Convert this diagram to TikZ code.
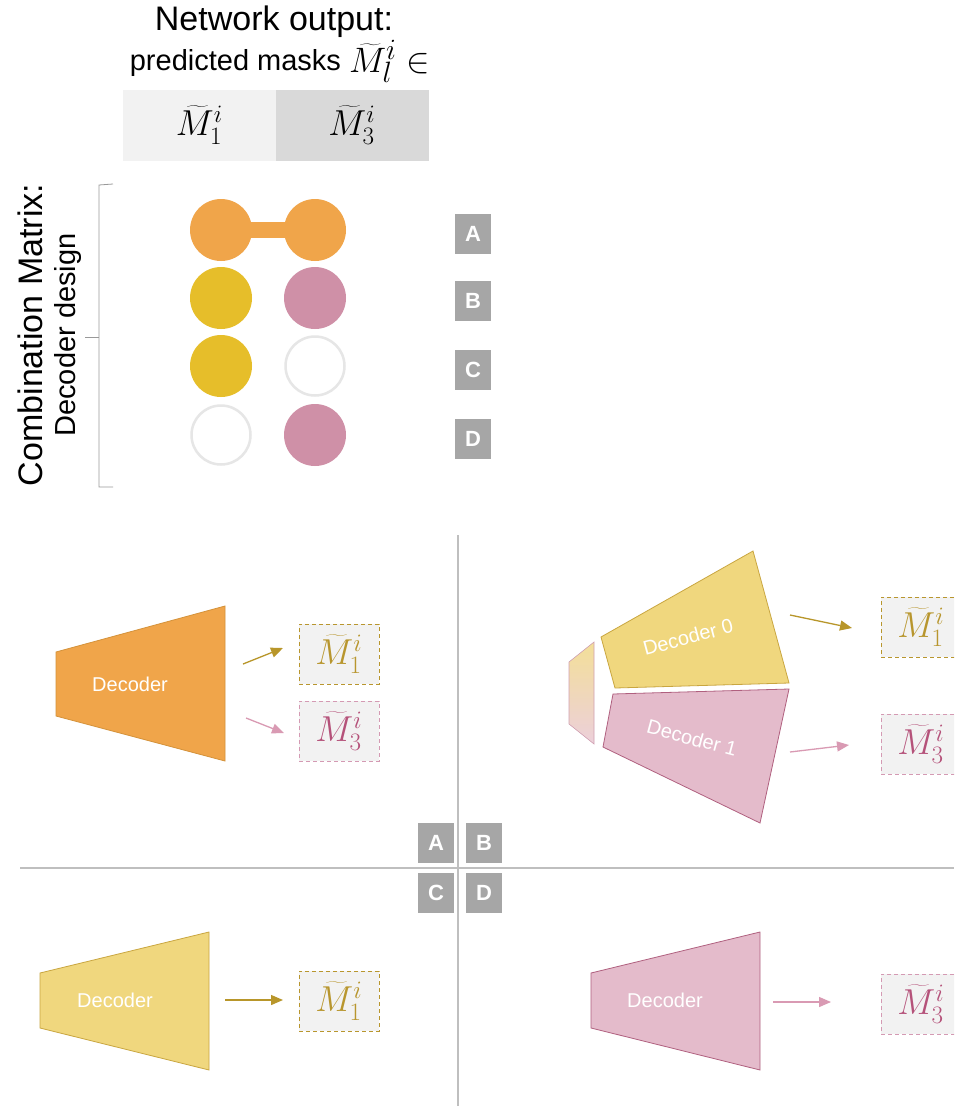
\documentclass[tikz,border=0pt]{standalone}
\usepackage{graphicx}
\usepackage{fontspec}
\setmainfont{Liberation Sans}
\usetikzlibrary{arrows.meta}
\definecolor{cOrange}{HTML}{F0A54A}
\definecolor{cOrangeL}{HTML}{D4923A}
\definecolor{cGold}{HTML}{E6BE2A}
\definecolor{cPink}{HTML}{CF90A7}
\definecolor{tGold}{HTML}{F0D77E}
\definecolor{tGoldL}{HTML}{C9A640}
\definecolor{tPink}{HTML}{E4BBCB}
\definecolor{tPinkL}{HTML}{B0607F}
\definecolor{aGold}{HTML}{B8962A}
\definecolor{aPink}{HTML}{D99AB3}
\definecolor{bPink}{HTML}{D49AB3}
\definecolor{mGold}{HTML}{B8962E}
\definecolor{mPink}{HTML}{B5527A}
\definecolor{boxfill}{HTML}{F2F2F2}
\definecolor{cellB}{HTML}{D9D9D9}
\definecolor{gridc}{HTML}{BFBFBF}
\definecolor{lgray}{HTML}{A6A6A6}
\definecolor{ring}{HTML}{E6E6E6}
\newcommand{\mM}[1]{\scalebox{1.45}{$\widetilde{M}_{#1}^{i}$}}
\begin{document}
\begin{tikzpicture}[x=1pt,y=-1pt,
  dot/.style={circle,minimum size=62pt,inner sep=0pt},
  emptydot/.style={circle,minimum size=59pt,inner sep=0pt,draw=ring,line width=2.5pt,fill=white},
  lbox/.style={fill=lgray,text=white,font=\bfseries\fontsize{22}{22}\selectfont,minimum width=36pt,minimum height=40pt,inner sep=0pt},
  mbox/.style={fill=boxfill,dash pattern=on 4pt off 3pt,line width=1pt,minimum width=80pt,minimum height=60pt,inner sep=0pt,font=\fontsize{24}{24}\selectfont},
  dectext/.style={text=white,font=\fontsize{20}{20}\selectfont},
  garrow/.style={draw=aGold,line width=1.3pt,-{Triangle[length=12pt,width=10pt]}},
  parrow/.style={draw=aPink,line width=1.3pt,-{Triangle[length=12pt,width=10pt]}},
  cell/.style={minimum width=153pt,minimum height=71pt,inner sep=0pt,font=\fontsize{26}{26}\selectfont}
]
\clip (0,0) rectangle (954,1106);
\fill[white] (0,0) rectangle (954,1106);

% title
\node[font=\fontsize{34}{34}\selectfont] (title) at (274,22) {Network output:};
\node[font=\fontsize{29}{29}\selectfont] (sub) at (280,61) {predicted masks \raisebox{-2pt}{\scalebox{1.42}{$\widetilde{M}_l^i \in$}}};
\node[cell,fill=boxfill] (c1) at (199.5,125) {\mM{1}};
\node[cell,fill=cellB] (c3) at (352,125) {\mM{3}};

% bracket
\draw[gray!80,line width=0.8pt] (113,184) -- (99,185) -- (99,487) -- (113,487);
\draw[gray!80,line width=0.8pt] (99,337) -- (85,337);
\node[rotate=90,font=\fontsize{34}{34}\selectfont] (cm) at (30,335) {Combination Matrix:};
\node[rotate=90,font=\fontsize{29}{29}\selectfont] (dd) at (68,335) {Decoder design};

% circles
\fill[cOrange] (221,222) rectangle (315,238);
\node[dot,fill=cOrange] (a1) at (221,230) {};
\node[dot,fill=cOrange] (a3) at (315,230) {};
\node[dot,fill=cGold] (b1) at (221,298) {};
\node[dot,fill=cPink] (b3) at (315,298) {};
\node[dot,fill=cGold] (cc1) at (221,366) {};
\node[emptydot] (cc3) at (315,366) {};
\node[emptydot] (d1) at (221,435) {};
\node[dot,fill=cPink] (d3) at (315,435) {};

\node[lbox] (LA) at (473,234) {A};
\node[lbox] (LB) at (473,301) {B};
\node[lbox] (LC) at (473,370) {C};
\node[lbox] (LD) at (473,439) {D};

% grid
\draw[gridc,line width=1.2pt] (458,535) -- (458,1106);
\draw[gridc,line width=1.2pt] (20,868) -- (954,868);
\node[lbox] (GA) at (436,843) {A};
\node[lbox] (GB) at (484,843) {B};
\node[lbox] (GC) at (436,893) {C};
\node[lbox] (GD) at (484,893) {D};

% quadrant A
\filldraw[fill=cOrange,draw=cOrangeL,line width=0.8pt] (56,652) -- (225,606) -- (225,761) -- (56,716) -- cycle;
\node[dectext] (decA) at (130,684) {Decoder};
\node[mbox,draw=mGold,text=mGold] (A1) at (339,654) {\mM{1}};
\node[mbox,draw=bPink,text=mPink] (A3) at (339,731) {\mM{3}};
\coordinate (sA1) at (243,664);
\coordinate (eA1) at (283,648);
\coordinate (sA3) at (246,718);
\coordinate (eA3) at (284,733);
\draw[garrow] (sA1) -- (eA1);
\draw[parrow] (sA3) -- (eA3);

% quadrant B
\shade[top color=tGold!80,bottom color=tPink!70,draw=tPinkL!60,line width=0.6pt] (569,662) -- (594,642) -- (594,744) -- (569,724) -- cycle;
\filldraw[fill=tGold,draw=tGoldL,line width=0.8pt] (601,637) -- (753,551) -- (789,683) -- (615,688) -- cycle;
\filldraw[fill=tPink,draw=tPinkL,line width=0.8pt] (613,694) -- (789,689) -- (760,823) -- (603,747) -- cycle;
\node[dectext,rotate=15] (dec0) at (688,637) {Decoder 0};
\node[dectext,rotate=-15] (dec1) at (692,738) {Decoder 1};
\node[mbox,draw=mGold,text=mGold] (B1) at (921,627) {\mM{1}};
\node[mbox,draw=bPink,text=mPink] (B3) at (921,744) {\mM{3}};
\coordinate (sB1) at (790,615);
\coordinate (eB1) at (852,628);
\coordinate (sB3) at (790,752);
\coordinate (eB3) at (849,745);
\draw[garrow] (sB1) -- (eB1);
\draw[parrow] (sB3) -- (eB3);

% quadrant C
\filldraw[fill=tGold,draw=tGoldL,line width=0.8pt] (40,973) -- (209,932) -- (209,1070) -- (40,1028) -- cycle;
\node[dectext] (decC) at (115,1000) {Decoder};
\node[mbox,draw=mGold,text=mGold] (C1) at (339,1001) {\mM{1}};
\coordinate (sC) at (225,1000);
\coordinate (eC) at (283,1000);
\draw[garrow] (sC) -- (eC);

% quadrant D
\filldraw[fill=tPink,draw=tPinkL,line width=0.8pt] (591,973) -- (760,932) -- (760,1070) -- (591,1028) -- cycle;
\node[dectext] (decD) at (665,1000) {Decoder};
\node[mbox,draw=bPink,text=mPink] (D3) at (921,1004) {\mM{3}};
\coordinate (sD) at (773,1002);
\coordinate (eD) at (831,1002);
\draw[parrow] (sD) -- (eD);
\end{tikzpicture}
\end{document}
